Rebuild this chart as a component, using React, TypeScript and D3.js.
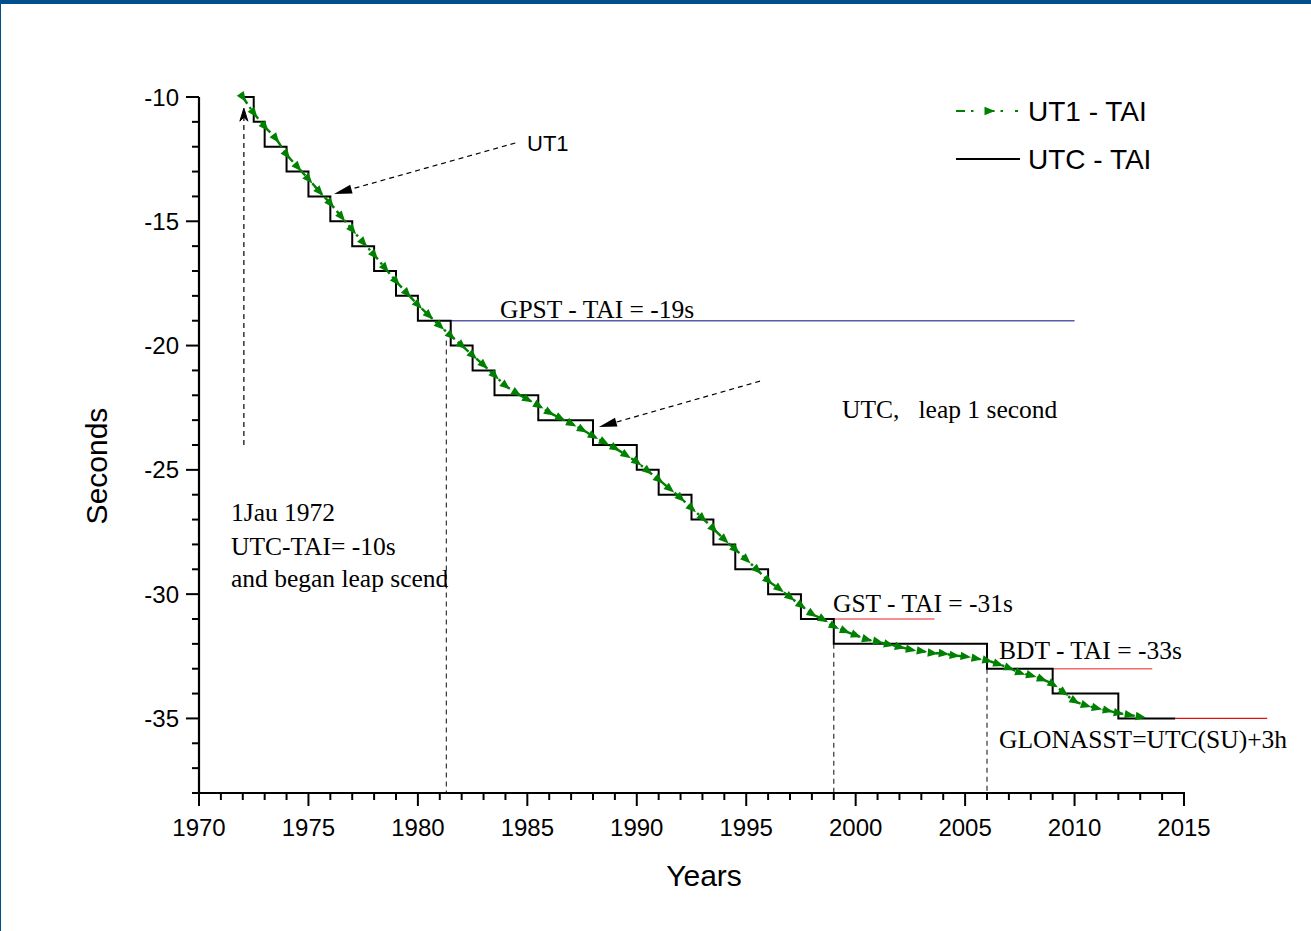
import React from 'react';
import * as d3 from 'd3';

// ---------- data ----------
const xTickLabels = [1970, 1975, 1980, 1985, 1990, 1995, 2000, 2005, 2010, 2015];
const yTickLabels = [-10, -15, -20, -25, -30, -35];

// UTC - TAI: year at which each new value starts
const utcStepYears = [1972, 1972.5, 1973, 1974, 1975, 1976, 1977, 1978, 1979, 1980, 1981.5, 1982.5, 1983.5, 1985.5, 1988, 1990, 1991, 1992.5, 1993.5, 1994.5, 1996, 1997.5, 1999, 2006, 2009, 2012];
const utcStepValues = [-10, -11, -12, -13, -14, -15, -16, -17, -18, -19, -20, -21, -22, -23, -24, -25, -26, -27, -28, -29, -30, -31, -32, -33, -34, -35];
const utcEndYear = 2014.6;

// UT1 - TAI
const ut1Years = [
  1972, 1972.5, 1973, 1973.5, 1974, 1974.5, 1975, 1975.5, 1976, 1976.5, 1977, 1977.5, 1978, 1978.5, 1979, 1979.5,
  1980, 1980.5, 1981, 1981.5, 1982, 1982.5, 1983, 1983.5, 1984, 1984.5, 1985, 1985.5, 1986, 1986.5, 1987, 1987.5,
  1988, 1988.5, 1989, 1989.5, 1990, 1990.5, 1991, 1991.5, 1992, 1992.5, 1993, 1993.5, 1994, 1994.5, 1995, 1995.5,
  1996, 1996.5, 1997, 1997.5, 1998, 1998.5, 1999, 1999.5, 2000, 2000.5, 2001, 2001.5, 2002, 2002.5, 2003, 2003.5,
  2004, 2004.5, 2005, 2005.5, 2006, 2006.5, 2007, 2007.5, 2008, 2008.5, 2009, 2009.5, 2010, 2010.5, 2011, 2011.5,
  2012, 2012.5, 2013,
];
const ut1Values = [
  -10.0, -10.64, -11.19, -11.66, -12.31, -12.81, -13.3, -13.8, -14.28, -14.81, -15.34, -15.85, -16.35, -16.88, -17.41, -17.89,
  -18.36, -18.78, -19.2, -19.6, -19.99, -20.39, -20.78, -21.2, -21.61, -21.91, -22.16, -22.41, -22.69, -22.92, -23.14, -23.38,
  -23.64, -23.88, -24.12, -24.4, -24.68, -25.04, -25.39, -25.76, -26.13, -26.54, -26.94, -27.37, -27.8, -28.2, -28.6, -29.02,
  -29.45, -29.78, -30.12, -30.45, -30.79, -31.01, -31.29, -31.48, -31.65, -31.82, -31.91, -32.02, -32.12, -32.23, -32.29, -32.37,
  -32.39, -32.47, -32.51, -32.59, -32.67, -32.81, -32.97, -33.16, -33.27, -33.42, -33.62, -33.95, -34.3, -34.47, -34.58, -34.68,
  -34.78, -34.86, -34.93,
];

// system time offsets: [startYear, endYear, value]
const gpstLine = [1981.5, 2010, -19];
const gstLine = [1999, 2003.6, -31];
const bdtLine = [2009, 2013.55, -33];
const glonassLine = [2014.6, 2018.8, -35];

// vertical dashed guides: [year, topValue]
const guideYears = [1981.3, 1999, 2006];
const guideTops = [-19.8, -32, -33];

// annotation arrows: [fromYear, fromValue, toYear, toValue]
const arrowUT1 = [1984.45, -11.85, 1976.17, -13.9];
const arrowUTC = [1995.63, -21.43, 1988.27, -23.28];
const arrowStart = [1972.05, -24.0, 1972.05, -10.45];

// ---------- layout ----------
const W = 1311;
const H = 931;
const x = d3.scaleLinear().domain([1970, 2015]).range([199, 1184]);
const y = d3.scaleLinear().domain([-38, -10]).range([793, 97]);

const SANS = '"Liberation Sans", Arial, sans-serif';
const SERIF = '"Liberation Serif", "Times New Roman", serif';
const GREEN = '#008000';

function Tri({ cx, cy, angle, color }: { cx: number; cy: number; angle: number; color: string }) {
  return (
    <path
      d="M6,0 L-4.5,-4.2 L-4.5,4.2 Z"
      transform={`translate(${cx},${cy}) rotate(${angle})`}
      fill={color}
      stroke="none"
    />
  );
}

function Arrow({ a, dash }: { a: number[]; dash: string }) {
  const x1 = x(a[0]), y1 = y(a[1]), x2 = x(a[2]), y2 = y(a[3]);
  const ang = (Math.atan2(y2 - y1, x2 - x1) * 180) / Math.PI;
  const len = Math.hypot(x2 - x1, y2 - y1);
  const ux = (x2 - x1) / len, uy = (y2 - y1) / len;
  return (
    <g>
      <line x1={x1} y1={y1} x2={x2 - ux * 12} y2={y2 - uy * 12} stroke="#000" strokeWidth={1.2} strokeDasharray={dash} />
      <path d="M0,0 L-18,-4.5 L-18,4.5 Z" transform={`translate(${x2},${y2}) rotate(${ang})`} fill="#000" />
    </g>
  );
}

export default function App() {
  const stepPts: [number, number][] = [];
  utcStepYears.forEach((yr, i) => {
    if (i > 0) stepPts.push([yr, utcStepValues[i - 1]]);
    stepPts.push([yr, utcStepValues[i]]);
  });
  stepPts.push([utcEndYear, utcStepValues[utcStepValues.length - 1]]);

  const line = d3
    .line<[number, number]>()
    .x((d) => x(d[0]))
    .y((d) => y(d[1]));

  const ut1Pts: [number, number][] = ut1Years.map((yr, i) => [yr, ut1Values[i]]);
  const ut1Curve = d3
    .line<[number, number]>()
    .x((d) => x(d[0]))
    .y((d) => y(d[1]))
    .curve(d3.curveMonotoneX);

  const markers = ut1Pts.map((p, i) => {
    const a = ut1Pts[Math.max(0, i - 1)];
    const b = ut1Pts[Math.min(ut1Pts.length - 1, i + 1)];
    const ang = (Math.atan2(y(b[1]) - y(a[1]), x(b[0]) - x(a[0])) * 180) / Math.PI;
    return { cx: x(p[0]), cy: y(p[1]), ang };
  });

  const xMinor = d3.range(1970, 2016, 1);
  const yMinor = d3.range(-38, -9, 1);

  const serifText = { fontFamily: SERIF, fontSize: 25.5, fill: '#000' } as const;

  return (
    <svg
      width={W}
      height={H}
      style={{ position: 'absolute', left: 0, top: 0, background: '#fff', display: 'block' }}
    >
      {/* frame */}
      <rect x={0} y={0} width={W} height={4} fill="#00508f" />
      <line x1={0.5} y1={0} x2={0.5} y2={H} stroke="#00508f" strokeWidth={1} />

      {/* guides */}
      {guideYears.map((g, i) => (
        <line key={'g' + i} x1={x(g)} x2={x(g)} y1={y(guideTops[i])} y2={y(-38)} stroke="#333" strokeWidth={1.2} strokeDasharray="5,4" />
      ))}

      {/* offset lines */}
      <line x1={x(gpstLine[0])} x2={x(gpstLine[1])} y1={y(gpstLine[2])} y2={y(gpstLine[2])} stroke="#5a5aa8" strokeWidth={1.5} />
      <line x1={x(gstLine[0])} x2={x(gstLine[1])} y1={y(gstLine[2])} y2={y(gstLine[2])} stroke="#f26b6b" strokeWidth={1.5} />
      <line x1={x(bdtLine[0])} x2={x(bdtLine[1])} y1={y(bdtLine[2])} y2={y(bdtLine[2])} stroke="#f26b6b" strokeWidth={1.5} />
      <line x1={x(glonassLine[0])} x2={x(glonassLine[1])} y1={y(glonassLine[2])} y2={y(glonassLine[2])} stroke="#e01010" strokeWidth={1.3} />

      {/* UTC - TAI steps */}
      <path d={line(stepPts) || ''} fill="none" stroke="#000" strokeWidth={2} strokeLinejoin="miter" />

      {/* UT1 - TAI */}
      <path d={ut1Curve(ut1Pts) || ''} fill="none" stroke={GREEN} strokeWidth={2.4} strokeDasharray="8,4,2.5,4" />
      {markers.map((m, i) => (
        <Tri key={'m' + i} cx={m.cx} cy={m.cy} angle={m.ang} color={GREEN} />
      ))}

      {/* axes */}
      <line x1={199} x2={199} y1={y(-10)} y2={y(-38)} stroke="#000" strokeWidth={2.2} />
      <line x1={x(1970) - 1} x2={x(2015) + 1} y1={y(-38)} y2={y(-38)} stroke="#000" strokeWidth={2.2} />
      {xMinor.map((v) => (
        <line key={'xt' + v} x1={x(v)} x2={x(v)} y1={y(-38)} y2={y(-38) + (v % 5 === 0 ? 13 : 7)} stroke="#000" strokeWidth={2} />
      ))}
      {yMinor.map((v) => (
        <line key={'yt' + v} x1={x(1970)} x2={x(1970) - (v % 5 === 0 ? 13 : 7)} y1={y(v)} y2={y(v)} stroke="#000" strokeWidth={2} />
      ))}
      {xTickLabels.map((v) => (
        <text key={'xl' + v} x={x(v)} y={836} textAnchor="middle" fontFamily={SANS} fontSize={24} fill="#000">
          {v}
        </text>
      ))}
      {yTickLabels.map((v) => (
        <text key={'yl' + v} x={179} y={y(v) + 8.5} textAnchor="end" fontFamily={SANS} fontSize={24} fill="#000">
          {v}
        </text>
      ))}
      <text x={704} y={886} textAnchor="middle" fontFamily={SANS} fontSize={30} fill="#000">
        Years
      </text>
      <text transform="translate(107,466) rotate(-90)" textAnchor="middle" fontFamily={SANS} fontSize={30} fill="#000">
        Seconds
      </text>

      {/* annotation arrows */}
      <Arrow a={arrowUT1} dash="5,4" />
      <Arrow a={arrowUTC} dash="5,4" />
      <g>
        <line
          x1={x(arrowStart[0])}
          x2={x(arrowStart[2])}
          y1={y(arrowStart[1])}
          y2={y(arrowStart[3]) + 6}
          stroke="#000"
          strokeWidth={1.2}
          strokeDasharray="5,4"
        />
        <path
          d="M0,0 L-4,13 L0,9 L4,13 Z"
          transform={`translate(${x(arrowStart[2])},${y(arrowStart[3])})`}
          fill="#000"
          stroke="#000"
          strokeWidth={1}
          strokeLinejoin="miter"
        />
      </g>

      {/* texts */}
      <text x={527} y={151} fontFamily={SANS} fontSize={22} fill="#000">UT1</text>
      <text x={500} y={318} {...serifText}>GPST - TAI = -19s</text>
      <text x={842} y={418} {...serifText} style={{ whiteSpace: 'pre' }}>{'UTC,   leap 1 second'}</text>
      <text x={231} y={521} {...serifText}>1Jau 1972</text>
      <text x={231} y={555} {...serifText}>UTC-TAI= -10s</text>
      <text x={231} y={587} {...serifText}>and began leap scend</text>
      <text x={833} y={612} {...serifText}>GST - TAI = -31s</text>
      <text x={999} y={659} {...serifText}>BDT - TAI = -33s</text>
      <text x={999} y={748} {...serifText}>GLONASST=UTC(SU)+3h</text>

      {/* legend */}
      <line x1={956} x2={1018} y1={111} y2={111} stroke={GREEN} strokeWidth={2} strokeDasharray="9,6,2.5,12,0,0" />
      <Tri cx={989} cy={111} angle={0} color={GREEN} />
      <text x={1028} y={121} fontFamily={SANS} fontSize={28} fill="#000">UT1 - TAI</text>
      <line x1={956} x2={1020} y1={159} y2={159} stroke="#000" strokeWidth={2} />
      <text x={1028} y={169} fontFamily={SANS} fontSize={28} fill="#000">UTC - TAI</text>
    </svg>
  );
}
